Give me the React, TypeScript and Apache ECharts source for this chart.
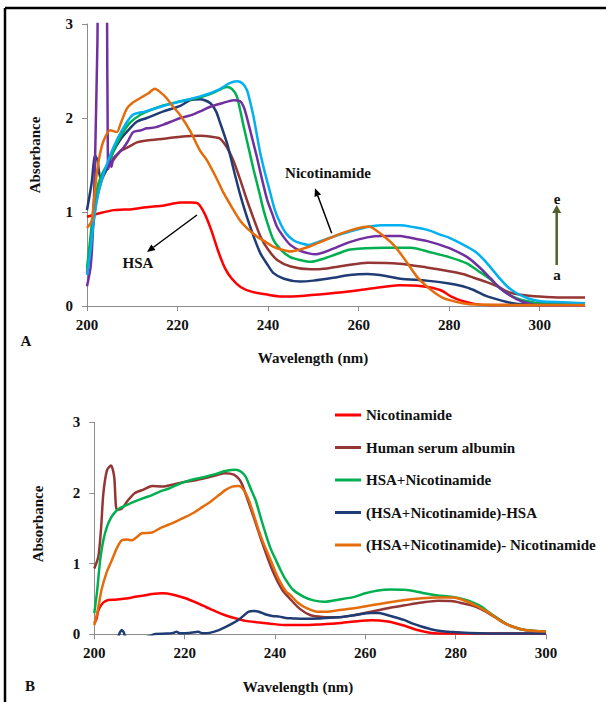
import React, { useEffect, useRef } from "react";
import * as echarts from "echarts";

const FONT = '"Liberation Serif", "Times New Roman", Times, serif';

// Axis ticks
const xTicksA = [200, 220, 240, 260, 280, 300];
const xTicksB = [200, 220, 240, 260, 280, 300];
const yTicks = [0, 1, 2, 3];

// ---------- Panel A: [wavelength nm, absorbance] ----------
const aHSA = [
  [200, 0.95], [203, 0.99], [206, 1.02], [210, 1.03], [213, 1.05], [217, 1.07], [220.6, 1.1], [223, 1.1],
  [224.5, 1.09], [226, 0.98], [227.5, 0.8], [229, 0.58], [230.5, 0.4], [232, 0.29], [234, 0.2], [236.5, 0.15],
  [240, 0.12], [243, 0.1], [248, 0.11], [255, 0.14], [262, 0.18], [269, 0.22], [274, 0.21], [278, 0.17],
  [280.5, 0.1], [282.5, 0.06], [286, 0.02], [290, 0.01], [300, 0.01], [310, 0.01],
];
const aCurveA = [
  [200, 0.35], [201, 0.7], [202, 1.1], [203, 1.3], [204, 1.42], [205.8, 1.55], [207.5, 1.65], [209.5, 1.7],
  [211, 1.74], [213.2, 1.76], [217, 1.78], [220.6, 1.8], [225, 1.81], [227.5, 1.8], [229.4, 1.78], [231, 1.68],
  [232.3, 1.55], [233.8, 1.35], [235.3, 1.13], [236.8, 0.93], [238.3, 0.74], [240, 0.6], [242, 0.49], [245, 0.42],
  [249.3, 0.39], [253, 0.4], [257, 0.43], [262, 0.46], [269, 0.45], [275, 0.41], [280, 0.37], [283, 0.34],
  [285.4, 0.3], [288, 0.26], [290.6, 0.21], [293, 0.15], [295.8, 0.12], [300, 0.1], [305, 0.09], [310, 0.09],
];
const aCurveB = [
  [200, 1.02], [201, 1.3], [201.8, 1.6], [202.3, 1.55], [203, 1.36], [204, 1.42], [205.8, 1.64], [207.5, 1.78],
  [209.5, 1.89], [211, 1.96], [213.2, 2.0], [216.9, 2.07], [220.6, 2.13], [222.8, 2.19], [225, 2.2], [227.2, 2.16],
  [228.5, 2.07], [229.4, 1.95], [231, 1.72], [232.4, 1.45], [233.8, 1.19], [235.3, 0.95], [236.8, 0.74], [238.3, 0.56],
  [240, 0.43], [241.2, 0.35], [243.5, 0.29], [247, 0.26], [250, 0.27], [254.4, 0.3], [258, 0.33], [262, 0.34],
  [266, 0.32], [269.2, 0.29], [275, 0.27], [280, 0.24], [283, 0.21], [285.4, 0.17], [288, 0.11], [291.4, 0.06],
  [294, 0.03], [296.5, 0.02], [300, 0.02], [305, 0.02], [310, 0.02],
];
const aCurveC = [
  [200, 0.4], [200.8, 0.75], [201.6, 1.1], [202.5, 1.3], [203.5, 1.42], [205, 1.55], [206.5, 1.72], [208, 1.85],
  [209.5, 1.95], [212, 2.04], [216, 2.12], [220, 2.17], [225, 2.22], [228, 2.27], [230.9, 2.33], [232, 2.31],
  [233.1, 2.23], [234.6, 1.91], [235.7, 1.68], [236.8, 1.45], [238, 1.22], [239, 1.02], [240, 0.86], [241.2, 0.7],
  [243, 0.59], [244.9, 0.52], [247, 0.49], [249.5, 0.47], [252, 0.5], [255, 0.55], [258.2, 0.6], [265.6, 0.62],
  [271.5, 0.62], [276, 0.57], [280, 0.52], [284, 0.45], [286.5, 0.37], [289.2, 0.28], [291, 0.2], [292.9, 0.13],
  [295, 0.08], [297.3, 0.05], [300, 0.03], [305, 0.03], [310, 0.03],
];
const aCurveD = [
  [200, 0.21], [200.8, 0.42], [201.3, 0.8], [201.8, 1.6], [202.3, 2.8], [202.6, 3.5], [204.2, 3.5], [204.5, 2.4],
  [204.7, 1.46], [205.1, 1.55], [205.4, 1.48], [205.8, 1.57], [207, 1.63], [208, 1.68], [209, 1.75], [210.2, 1.85],
  [212, 1.87], [213.2, 1.89], [215, 1.9], [216.9, 1.93], [219, 1.97], [220.6, 2.0], [223, 2.03], [225, 2.07],
  [227.2, 2.12], [230, 2.16], [232.4, 2.19], [233.8, 2.18], [234.6, 2.12], [235.3, 2.01], [236.5, 1.78], [237.5, 1.59],
  [238.6, 1.36], [239.8, 1.13], [241, 0.97], [242, 0.84], [243.5, 0.73], [244.9, 0.65], [247, 0.59], [249, 0.56],
  [250.5, 0.55], [254.4, 0.61], [258, 0.68], [261.9, 0.73], [265, 0.745], [269.2, 0.745], [272, 0.72], [275.2, 0.69],
  [278, 0.65], [280.3, 0.61], [284, 0.52], [286.5, 0.42], [289.2, 0.29], [291, 0.2], [292.9, 0.13], [295, 0.07],
  [297.3, 0.03], [300, 0.01], [305, 0.01], [310, 0.01],
];
const aCurveE = [
  [200, 0.33], [200.8, 0.6], [201.6, 0.95], [202.5, 1.2], [203.5, 1.38], [204.5, 1.52], [205.5, 1.65], [207.5, 1.85],
  [210, 2.03], [213, 2.07], [217, 2.13], [221, 2.18], [225, 2.23], [229, 2.3], [231.5, 2.37], [233.1, 2.39],
  [234.3, 2.37], [235.3, 2.3], [236, 2.18], [236.8, 2.01], [238.3, 1.62], [239.5, 1.38], [240.5, 1.2], [241.5, 1.02],
  [242.7, 0.88], [244, 0.77], [245.6, 0.7], [247, 0.67], [249, 0.65], [251, 0.68], [254.5, 0.74], [258, 0.79],
  [261.9, 0.84], [265, 0.86], [269.2, 0.86], [272, 0.84], [275.2, 0.81], [278, 0.76], [280.3, 0.72], [284, 0.63],
  [286, 0.57], [287.7, 0.49], [289.5, 0.39], [291.4, 0.28], [293, 0.2], [295.1, 0.13], [297.5, 0.08], [300.2, 0.05],
  [305, 0.04], [310, 0.03],
];
const aNicotinamide = [
  [200, 0.83], [201, 0.9], [201.5, 1.1], [202.1, 1.39], [202.8, 1.6], [203.6, 1.75], [205.1, 1.87], [206.6, 1.85],
  [207.5, 1.95], [208.8, 2.1], [210, 2.16], [211.7, 2.21], [213.5, 2.26], [215, 2.31], [216.3, 2.27], [217.6, 2.21],
  [219, 2.12], [220.6, 2.03], [222.8, 1.86], [225, 1.65], [226.5, 1.55], [228.5, 1.37], [230.2, 1.2], [232, 1.05],
  [233.8, 0.91], [235.5, 0.82], [237.5, 0.74], [239.5, 0.68], [241.2, 0.63], [243, 0.6], [244.9, 0.58], [247, 0.6],
  [249, 0.63], [251.5, 0.68], [254, 0.73], [256, 0.77], [258.5, 0.81], [261.1, 0.84], [262.3, 0.845], [264, 0.8],
  [265.6, 0.74], [267.5, 0.66], [269.2, 0.56], [271, 0.44], [272.9, 0.31], [274.8, 0.22], [276.6, 0.15], [278.5, 0.09],
  [280.3, 0.06], [283, 0.03], [286, 0.015], [292, 0.01], [310, 0.01],
];

// ---------- Panel B ----------
const legendNames = [
  "Nicotinamide",
  "Human serum albumin",
  "HSA+Nicotinamide",
  "(HSA+Nicotinamide)-HSA",
  "(HSA+Nicotinamide)- Nicotinamide",
];
const bNicotinamide = [
  [200, 0.16], [200.5, 0.22], [200.9, 0.34], [202, 0.45], [203.1, 0.485], [204.5, 0.49], [206.1, 0.5], [207.5, 0.51],
  [209, 0.53], [211, 0.55], [212.8, 0.57], [215, 0.58], [217.5, 0.56], [220.2, 0.51], [222.5, 0.45], [224.6, 0.39],
  [227, 0.32], [229, 0.27], [231, 0.23], [233.5, 0.19], [236, 0.17], [239, 0.15], [242.4, 0.13], [246.4, 0.13],
  [250, 0.14], [253.9, 0.155], [257.5, 0.18], [261.3, 0.2], [265, 0.18], [268.7, 0.12], [271.5, 0.06], [274.6, 0.02],
  [278, 0.01], [290, 0.01], [300, 0.01],
];
const bHSA = [
  [200, 0.93], [200.9, 1.1], [201.5, 1.5], [202, 1.99], [202.8, 2.32], [203.7, 2.39], [204.4, 2.23], [205, 1.76],
  [206.1, 1.78], [207.5, 1.9], [209, 2.0], [211, 2.05], [212.8, 2.1], [215, 2.09], [217.5, 2.12], [220.2, 2.16],
  [222.5, 2.18], [224.6, 2.21], [227, 2.25], [229, 2.28], [230.9, 2.26], [232, 2.2], [232.8, 2.11], [235, 1.71],
  [237.2, 1.29], [239.4, 0.91], [241.6, 0.63], [243.5, 0.49], [245.5, 0.36], [247.9, 0.27], [250.5, 0.245], [253.9, 0.24],
  [257.5, 0.27], [261.3, 0.32], [265, 0.37], [268.7, 0.41], [272.5, 0.45], [276.1, 0.475], [279, 0.47], [281.5, 0.44],
  [283.5, 0.41], [285.5, 0.36], [287.2, 0.3], [289, 0.23], [290.9, 0.155], [293, 0.1], [295.3, 0.06], [297.5, 0.045],
  [300, 0.04],
];
const bHSANic = [
  [200, 0.3], [200.6, 0.6], [201.3, 1.05], [202, 1.33], [202.8, 1.52], [203.7, 1.65], [204.6, 1.73], [205.5, 1.78],
  [206.5, 1.81], [207.5, 1.84], [209, 1.88], [211, 1.93], [212.8, 1.97], [214.5, 2.02], [216.4, 2.06], [218.5, 2.12],
  [220.2, 2.16], [222.5, 2.2], [224.6, 2.23], [227, 2.27], [229, 2.31], [231.3, 2.33], [232.5, 2.3], [233.5, 2.23],
  [234.5, 2.08], [235.7, 1.9], [236.8, 1.66], [237.9, 1.43], [239, 1.22], [240.2, 1.05], [241.3, 0.9], [242.4, 0.77],
  [244, 0.63], [246.4, 0.53], [248.5, 0.48], [250.9, 0.46], [254, 0.49], [257.6, 0.53], [260, 0.58], [262.8, 0.62],
  [265.5, 0.635], [268.7, 0.63], [271, 0.61], [273.1, 0.58], [276, 0.55], [279, 0.53], [281.5, 0.5], [283.5, 0.46],
  [285.5, 0.4], [287.2, 0.32], [289, 0.24], [290.9, 0.16], [293, 0.1], [295.3, 0.06], [297.5, 0.045], [300, 0.04],
];
const bMinusHSA = [
  [200, -0.3], [203, -0.2], [205.3, -0.03], [205.7, 0.03], [206.1, 0.06], [206.5, 0.03], [206.9, -0.03], [209, -0.08],
  [212, -0.03], [213.5, 0.005], [216, 0.01], [217.5, 0.02], [218.2, 0.035], [219, 0.015], [221, 0.02], [223, 0.035],
  [224, 0.015], [225.5, 0.02], [227.6, 0.06], [229, 0.1], [230.5, 0.15], [231.8, 0.2], [232.8, 0.25], [234.2, 0.32],
  [235.3, 0.33], [236.4, 0.32], [238, 0.28], [239.4, 0.26], [241, 0.25], [242.4, 0.23], [244, 0.225], [246.4, 0.22],
  [250, 0.225], [253.9, 0.24], [257.5, 0.27], [261.3, 0.3], [263, 0.3], [265, 0.27], [268.7, 0.2], [270.5, 0.15],
  [272.4, 0.11], [275, 0.065], [277.6, 0.04], [280, 0.03], [283, 0.02], [290, 0.01], [300, 0.01],
];
const bMinusNic = [
  [200, 0.13], [200.8, 0.35], [201.6, 0.63], [202.7, 0.87], [203.9, 1.05], [205, 1.22], [206.1, 1.33], [207.3, 1.34],
  [208.3, 1.33], [209.5, 1.38], [210.5, 1.43], [212.8, 1.44], [214.5, 1.5], [216.4, 1.55], [218.5, 1.61], [220.2, 1.66],
  [222, 1.72], [223.9, 1.8], [225.8, 1.88], [227.6, 1.97], [229, 2.04], [230.5, 2.09], [231.8, 2.1], [232.4, 2.09],
  [233.3, 2.02], [234.2, 1.9], [235.3, 1.69], [236.4, 1.47], [237.5, 1.28], [238.7, 1.1], [239.8, 0.93], [240.9, 0.77],
  [242.4, 0.61], [243.5, 0.55], [245, 0.45], [247, 0.37], [249.4, 0.32], [251.5, 0.32], [253.9, 0.34], [257.5, 0.37],
  [261.3, 0.41], [265, 0.45], [268.7, 0.485], [272.5, 0.51], [276.1, 0.52], [279, 0.52], [281, 0.5], [283, 0.45],
  [285, 0.39], [287.2, 0.31], [289, 0.23], [290.9, 0.155], [293, 0.1], [295.3, 0.06], [297.5, 0.045], [300, 0.04],
];

const RED = "#FF0000";
const BROWN = "#943634";
const NAVY = "#1F3C74";
const GREEN = "#00B050";
const PURPLE = "#7030A0";
const CYAN = "#00B0F0";
const ORANGE = "#E46C0A";
const AXIS = "#8C8C8C";

function arrow(x1: number, y1: number, x2: number, y2: number, color: string, width: number, hl: number, hw: number) {
  const dx = x2 - x1, dy = y2 - y1;
  const len = Math.hypot(dx, dy);
  const ux = dx / len, uy = dy / len;
  const bx = x2 - ux * hl, by = y2 - uy * hl;
  const px = -uy * hw, py = ux * hw;
  return [
    { type: "line", z: 100, shape: { x1, y1, x2: bx, y2: by }, style: { stroke: color, lineWidth: width } },
    { type: "polygon", z: 100, shape: { points: [[x2, y2], [bx + px, by + py], [bx - px, by - py]] }, style: { fill: color } },
  ];
}

function txt(text: string, x: number, y: number, rotation = 0) {
  return {
    type: "text", z: 100, x, y, rotation,
    style: { text, fill: "#111", font: `bold 15px ${FONT}`, align: "center", verticalAlign: "middle" },
  };
}

export default function App() {
  const ref = useRef<HTMLDivElement>(null);
  useEffect(() => {
    if (!ref.current) return;
    const chart = echarts.init(ref.current, null, { renderer: "svg" });
    const axisLabel = { color: "#111", fontFamily: FONT, fontWeight: "bold", fontSize: 15 };
    const mkX = (gi: number, max: number, ticks: number[]) => ({
      type: "value", gridIndex: gi, min: 200, max, interval: 20,
      axisLine: { show: true, lineStyle: { color: AXIS, width: 1 } },
      axisTick: { show: true, length: 5, lineStyle: { color: AXIS }, customValues: ticks },
      axisLabel: {
        ...axisLabel, margin: 11, customValues: ticks,
        formatter: (v: number) => (ticks.indexOf(v) >= 0 ? String(v) : ""),
      },
      splitLine: { show: false },
    });
    const mkY = (gi: number) => ({
      type: "value", gridIndex: gi, min: 0, max: 3, interval: 1,
      axisLine: { show: true, lineStyle: { color: AXIS, width: 1 } },
      axisTick: { show: true, length: 5, lineStyle: { color: AXIS }, customValues: yTicks },
      axisLabel: { ...axisLabel, margin: 14, customValues: yTicks },
      splitLine: { show: false },
    });
    const mk = (name: string, data: number[][], color: string, gi: number) => ({
      type: "line", name, data, xAxisIndex: gi, yAxisIndex: gi,
      showSymbol: false, symbol: "none", smooth: 0.25, clip: true, silent: true,
      lineStyle: { color, width: 2.5 }, itemStyle: { color },
    });

    chart.setOption({
      animation: false,
      backgroundColor: "#ffffff",
      grid: [
        { left: 87, top: 24, width: 498, height: 282 },
        { left: 94.3, top: 422.3, width: 451.7, height: 212 },
      ],
      xAxis: [mkX(0, 310, xTicksA), mkX(1, 300, xTicksB)],
      yAxis: [mkY(0), mkY(1)],
      legend: {
        data: legendNames,
        orient: "vertical",
        left: 330,
        top: 401,
        itemWidth: 26,
        itemHeight: 3,
        itemGap: 14.5,
        icon: "rect",
        selectedMode: false,
        textStyle: { fontFamily: FONT, fontWeight: "bold", fontSize: 15, color: "#111", lineHeight: 18 },
      },
      series: [
        mk("A: HSA", aHSA, RED, 0),
        mk("A: curve a", aCurveA, BROWN, 0),
        mk("A: curve b", aCurveB, NAVY, 0),
        mk("A: curve c", aCurveC, GREEN, 0),
        mk("A: curve d", aCurveD, PURPLE, 0),
        mk("A: curve e", aCurveE, CYAN, 0),
        mk("A: Nicotinamide", aNicotinamide, ORANGE, 0),
        mk(legendNames[0], bNicotinamide, RED, 1),
        mk(legendNames[1], bHSA, BROWN, 1),
        mk(legendNames[2], bHSANic, GREEN, 1),
        mk(legendNames[3], bMinusHSA, NAVY, 1),
        mk(legendNames[4], bMinusNic, ORANGE, 1),
      ],
      graphic: [
        { type: "line", z: 100, shape: { x1: 5, y1: 8, x2: 606, y2: 8 }, style: { stroke: "#000", lineWidth: 2.5 } },
        { type: "line", z: 100, shape: { x1: 5, y1: 8, x2: 5, y2: 702 }, style: { stroke: "#000", lineWidth: 2.5 } },
        txt("Absorbance", 35, 155, Math.PI / 2),
        txt("Absorbance", 37.5, 524, Math.PI / 2),
        txt("Wavelength (nm)", 313, 358),
        txt("Wavelength (nm)", 298, 687),
        txt("A", 26, 341),
        txt("B", 30, 686),
        txt("Nicotinamide", 328, 173),
        txt("HSA", 138, 263),
        txt("e", 557, 199),
        txt("a", 557, 275),
        ...arrow(331.7, 233.3, 315, 188.3, "#000", 1.5, 8, 3.5),
        ...arrow(197, 215, 147, 252, "#000", 1.5, 8, 3.5),
        ...arrow(556.7, 265, 556.7, 205, "#4F6228", 2.5, 8, 4.5),
      ],
    } as any);
    return () => chart.dispose();
  }, []);
  return <div ref={ref} style={{ position: "fixed", left: 0, top: 0, width: 606, height: 702, background: "#fff" }} />;
}
